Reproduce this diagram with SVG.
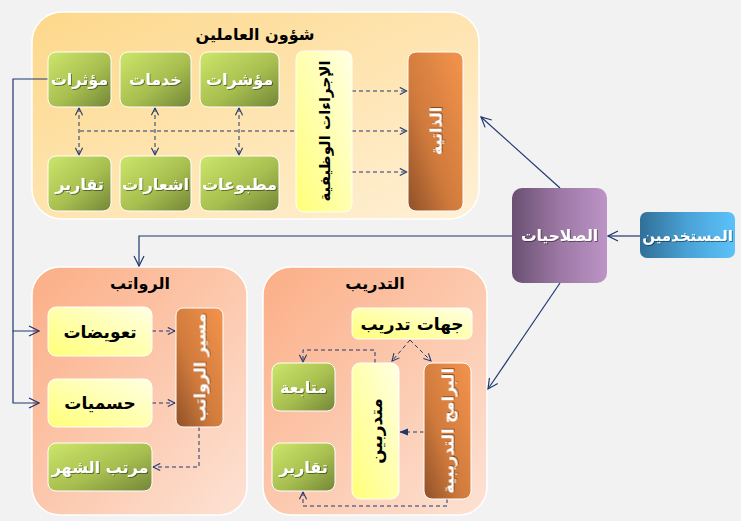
<svg xmlns="http://www.w3.org/2000/svg" width="741" height="521" viewBox="0 0 741 521">
<defs>
<linearGradient id="gTop" x1="0" y1="0" x2="1" y2="1"><stop offset="0" stop-color="#fdd88a"/><stop offset="1" stop-color="#fff0d6"/></linearGradient>
<linearGradient id="gBot" x1="0" y1="0" x2="1" y2="1"><stop offset="0" stop-color="#fbae86"/><stop offset="1" stop-color="#fde2d4"/></linearGradient>
<linearGradient id="gGreen" x1="0" y1="0" x2="1" y2="1"><stop offset="0" stop-color="#cde66a"/><stop offset="0.55" stop-color="#a8bf50"/><stop offset="1" stop-color="#738637"/></linearGradient>
<linearGradient id="gOrange" x1="1" y1="0" x2="0" y2="1"><stop offset="0" stop-color="#f4944d"/><stop offset="0.6" stop-color="#cf7a3c"/><stop offset="1" stop-color="#8f5028"/></linearGradient>
<linearGradient id="gYellow" x1="0" y1="1" x2="1" y2="0"><stop offset="0" stop-color="#ffff78"/><stop offset="1" stop-color="#ffffe4"/></linearGradient>
<linearGradient id="gPurple" x1="0" y1="0" x2="1" y2="0"><stop offset="0" stop-color="#6a5072"/><stop offset="0.5" stop-color="#9c78a4"/><stop offset="1" stop-color="#bc94c6"/></linearGradient>
<linearGradient id="gBlue" x1="0" y1="0" x2="1" y2="0"><stop offset="0" stop-color="#316f98"/><stop offset="0.5" stop-color="#4aa2d6"/><stop offset="1" stop-color="#5cc2fa"/></linearGradient>
<filter id="sh" x="-20%" y="-20%" width="140%" height="140%"><feDropShadow dx="1" dy="1" stdDeviation="0.6" flood-color="#000" flood-opacity="0.45"/></filter>
<marker id="open" viewBox="0 0 12 12" refX="11" refY="6" markerWidth="12" markerHeight="12" markerUnits="userSpaceOnUse" orient="auto-start-reverse"><path d="M1,1 L11,6 L1,11" fill="none" stroke="#1f3870" stroke-width="1.2"/></marker>
<marker id="openS" viewBox="0 0 10 10" refX="9" refY="5" markerWidth="9" markerHeight="9" markerUnits="userSpaceOnUse" orient="auto-start-reverse"><path d="M1,1 L9,5 L1,9" fill="none" stroke="#1f3870" stroke-width="1.2"/></marker>
<marker id="fill" viewBox="0 0 10 10" refX="9" refY="5" markerWidth="9" markerHeight="9" markerUnits="userSpaceOnUse" orient="auto"><path d="M0,1 L10,5 L0,9 Z" fill="#1f3870"/></marker>
</defs>
<style>
.panel{stroke:#ffffff;stroke-width:1.5}
.box{stroke:#ffffff;stroke-width:1}
.t{font-family:"DejaVu Sans","Liberation Sans",sans-serif;font-weight:bold;text-anchor:middle}
.title{font-size:16px;fill:#000}
.w{font-size:16px;fill:#ffffff;filter:url(#sh)}
.b{font-size:17px;fill:#000}
.ln{fill:none;stroke:#1f3870;stroke-width:1.2}
.dl{fill:none;stroke:#1f3870;stroke-width:1;stroke-dasharray:4,3}
</style>
<rect width="741" height="521" fill="#f2f2f2"/>

<g id="panel-staff">
<rect class="panel" x="32" y="12" width="447" height="207" rx="30" fill="url(#gTop)"/>
<text class="t title" x="255" y="40">شؤون العاملين</text>
</g>
<g id="panel-salaries">
<rect class="panel" x="32" y="267" width="215" height="248" rx="28" fill="url(#gBot)"/>
<text class="t title" x="140" y="289">الرواتب</text>
</g>
<g id="panel-training">
<rect class="panel" x="263" y="267" width="224" height="248" rx="28" fill="url(#gBot)"/>
<text class="t title" x="375" y="289">التدريب</text>
</g>

<g id="connectors">
<line class="dl" x1="352" y1="91" x2="407" y2="91" marker-end="url(#openS)"/>
<line class="dl" x1="80" y1="131" x2="296" y2="131"/>
<line class="dl" x1="352" y1="131" x2="407" y2="131" marker-end="url(#openS)"/>
<line class="dl" x1="352" y1="172" x2="407" y2="172" marker-end="url(#openS)"/>
<line class="dl" x1="79" y1="108" x2="79" y2="155" marker-start="url(#openS)" marker-end="url(#openS)"/>
<line class="dl" x1="155" y1="108" x2="155" y2="155" marker-start="url(#openS)" marker-end="url(#openS)"/>
<line class="dl" x1="239" y1="108" x2="239" y2="155" marker-start="url(#openS)" marker-end="url(#openS)"/>
<line class="ln" x1="640" y1="236" x2="608" y2="236" marker-end="url(#open)"/>
<line class="ln" x1="560" y1="188" x2="481" y2="117" marker-end="url(#open)"/>
<polyline class="ln" points="512,236 139,236 139,266" marker-end="url(#open)"/>
<line class="ln" x1="560" y1="283" x2="488" y2="389" marker-end="url(#open)"/>
<polyline class="ln" points="48,79 13,79 13,331 39,331" marker-end="url(#open)"/>
<polyline class="ln" points="13,331 13,403 39,403" marker-end="url(#open)"/>
<line class="dl" x1="152" y1="331" x2="175" y2="331" marker-end="url(#openS)"/>
<line class="dl" x1="152" y1="403" x2="175" y2="403" marker-end="url(#openS)"/>
<polyline class="dl" points="199,427 199,467 153,467" marker-end="url(#openS)"/>
<line class="dl" x1="410" y1="340" x2="392" y2="361" marker-end="url(#openS)"/>
<line class="dl" x1="410" y1="340" x2="431" y2="361" marker-end="url(#openS)"/>
<polyline class="dl" points="375,363 375,350 303,350 303,362" marker-end="url(#openS)"/>
<line class="dl" x1="424" y1="432" x2="400" y2="432" marker-end="url(#fill)"/>
<polyline class="dl" points="447,499 447,506 303,506 303,492" marker-end="url(#openS)"/>
</g>

<g id="node-moathirat"><rect class="box" x="48" y="52" width="63" height="55" rx="8" fill="url(#gGreen)"/><text class="t w" x="79.5" y="85">مؤثرات</text></g>
<g id="node-khadamat"><rect class="box" x="120" y="52" width="71" height="55" rx="8" fill="url(#gGreen)"/><text class="t w" x="155.5" y="85">خدمات</text></g>
<g id="node-moasharat"><rect class="box" x="200" y="52" width="79" height="55" rx="8" fill="url(#gGreen)"/><text class="t w" x="239.5" y="85">مؤشرات</text></g>
<g id="node-taqarir1"><rect class="box" x="48" y="156" width="63" height="55" rx="8" fill="url(#gGreen)"/><text class="t w" x="79.5" y="190">تقارير</text></g>
<g id="node-ishaarat"><rect class="box" x="120" y="156" width="71" height="55" rx="8" fill="url(#gGreen)"/><text class="t w" x="155.5" y="190">اشعارات</text></g>
<g id="node-matbooat"><rect class="box" x="200" y="156" width="79" height="55" rx="8" fill="url(#gGreen)"/><text class="t w" x="239.5" y="190">مطبوعات</text></g>
<g id="node-ijraat"><rect class="box" x="296" y="51" width="56" height="161" rx="8" fill="url(#gYellow)"/><text class="t b" transform="translate(324,131) rotate(-90)" x="0" y="6" style="font-size:15px">الإجراءات الوظيفية</text></g>
<g id="node-thatiya"><rect class="box" x="408" y="52" width="55" height="159" rx="8" fill="url(#gOrange)"/><text class="t w" transform="translate(435.5,131) rotate(-90)" x="0" y="6">الذاتية</text></g>

<g id="node-salahiyat"><rect x="512" y="188" width="95" height="95" rx="10" fill="url(#gPurple)"/><text class="t w" x="559.5" y="241" style="font-size:15.5px">الصلاحيات</text></g>
<g id="node-mustakhdimin"><rect x="640" y="212" width="95" height="46" rx="7" fill="url(#gBlue)"/><text class="t w" x="687.5" y="241" style="font-size:15px">المستخدمين</text></g>

<g id="node-taweedat"><rect class="box" x="48" y="307" width="104" height="49" rx="8" fill="url(#gYellow)"/><text class="t b" x="100" y="338">تعويضات</text></g>
<g id="node-hasmiyat"><rect class="box" x="48" y="379" width="104" height="48" rx="8" fill="url(#gYellow)"/><text class="t b" x="100" y="409">حسميات</text></g>
<g id="node-masir"><rect class="box" x="176" y="308" width="47" height="119" rx="7" fill="url(#gOrange)"/><text class="t w" transform="translate(199.5,367.5) rotate(-90)" x="0" y="6">مسير الرواتب</text></g>
<g id="node-murattab"><rect class="box" x="48" y="443" width="104" height="48" rx="8" fill="url(#gGreen)"/><text class="t w" x="100" y="473">مرتب الشهر</text></g>

<g id="node-jihat"><rect class="box" x="352" y="308" width="120" height="31" rx="6" fill="url(#gYellow)"/><text class="t b" x="412" y="330">جهات تدريب</text></g>
<g id="node-mutabaa"><rect class="box" x="272" y="363" width="63" height="48" rx="8" fill="url(#gGreen)"/><text class="t w" x="303.5" y="393">متابعة</text></g>
<g id="node-taqarir2"><rect class="box" x="272" y="443" width="63" height="48" rx="8" fill="url(#gGreen)"/><text class="t w" x="303.5" y="473">تقارير</text></g>
<g id="node-mutadarribin"><rect class="box" x="352" y="363" width="47" height="136" rx="8" fill="url(#gYellow)"/><text class="t b" transform="translate(375.5,431) rotate(-90)" x="0" y="6">متدربين</text></g>
<g id="node-baramij"><rect class="box" x="424" y="363" width="47" height="136" rx="8" fill="url(#gOrange)"/><text class="t w" transform="translate(447.5,431) rotate(-90)" x="0" y="6">البرامج التدريبية</text></g>
</svg>
